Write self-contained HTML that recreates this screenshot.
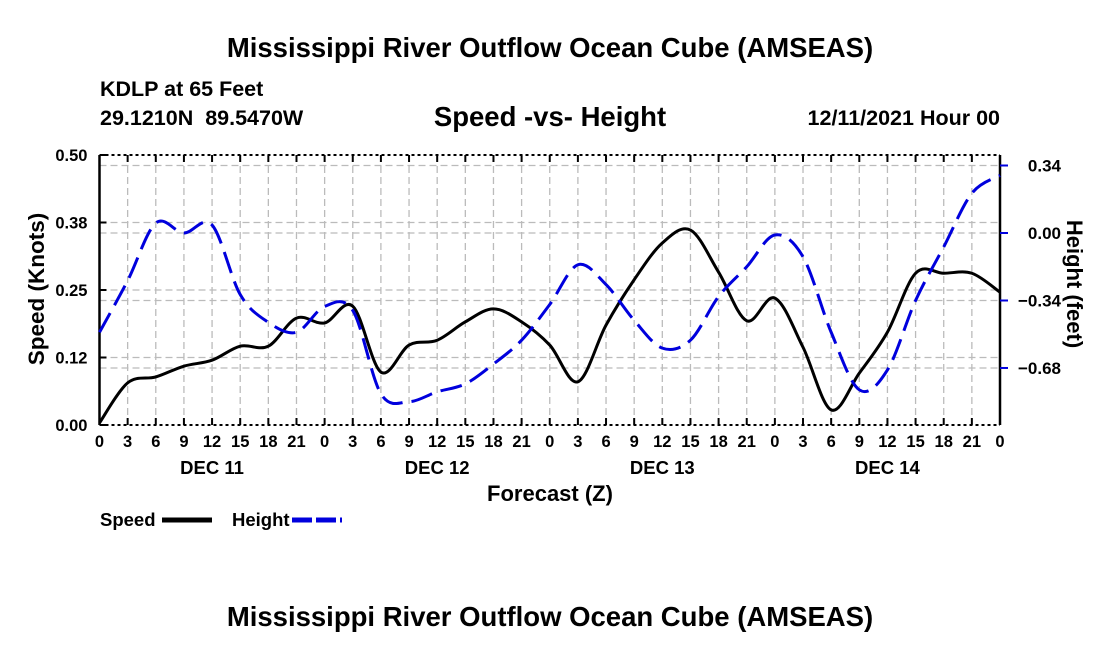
<!DOCTYPE html>
<html><head><meta charset="utf-8"><style>
body{margin:0;background:#fff;}
svg{display:block;font-family:"Liberation Sans",Arial,sans-serif;font-weight:bold;}
</style></head><body>
<svg id="chart" width="1100" height="650" viewBox="0 0 1100 650">
<text x="550" y="57" font-size="27.5" text-anchor="middle">Mississippi River Outflow Ocean Cube (AMSEAS)</text>
<text x="100" y="96" font-size="21.5">KDLP at 65 Feet</text>
<text x="100" y="125" font-size="21.5" xml:space="preserve" style="white-space:pre">29.1210N  89.5470W</text>
<text x="550" y="126" font-size="27.5" text-anchor="middle">Speed -vs- Height</text>
<text x="1000" y="125" font-size="21.5" text-anchor="end">12/11/2021 Hour 00</text>
<g id="grid"></g>
<g id="axes"></g>
<g id="series"></g>
<text transform="translate(44,289) rotate(-90)" font-size="22.5" text-anchor="middle">Speed (Knots)</text>
<text transform="translate(1067,284) rotate(90)" font-size="22" text-anchor="middle">Height (feet)</text>
<text x="550" y="501" font-size="22" text-anchor="middle">Forecast (Z)</text>
<g>
<text x="100" y="526" font-size="18.5">Speed</text>
<line x1="162" y1="520" x2="212" y2="520" stroke="#000" stroke-width="5"/>
<text x="232" y="526" font-size="18.5">Height</text>
<line x1="292" y1="520" x2="342" y2="520" stroke="#0000dd" stroke-width="5" stroke-dasharray="20 4"/>
</g>
<text x="550" y="626" font-size="27.5" text-anchor="middle">Mississippi River Outflow Ocean Cube (AMSEAS)</text>
</svg>
<script>
const hours=[0,3,6,9,12,15,18,21,24,27,30,33,36,39,42,45,48,51,54,57,60,63,66,69,72,75,78,81,84,87,90,93,96];
const speed=[0.004,0.078,0.089,0.109,0.120,0.146,0.146,0.198,0.189,0.220,0.098,0.148,0.157,0.191,0.215,0.191,0.148,0.080,0.185,0.269,0.337,0.361,0.283,0.193,0.235,0.144,0.028,0.096,0.172,0.281,0.281,0.281,0.246];
const height=[-0.50,-0.24,0.05,0.00,0.04,-0.31,-0.45,-0.50,-0.37,-0.39,-0.81,-0.85,-0.80,-0.76,-0.66,-0.54,-0.36,-0.16,-0.26,-0.44,-0.58,-0.54,-0.32,-0.17,-0.01,-0.12,-0.50,-0.79,-0.69,-0.34,-0.07,0.20,0.29];
const leftTicks=["0.00","0.12","0.25","0.38","0.50"];
const leftTickVals=[0,0.125,0.25,0.375,0.5];
const rightTicks=["0.34","0.00","\u22120.34","\u22120.68"];
const rightTickVals=[0.34,0,-0.34,-0.68];
const dayLabels=["DEC 11","DEC 12","DEC 13","DEC 14"];
const X0=99.5,X1=1000,YT=155,YB=425;
const xs=h=>X0+(X1-X0)*h/96;
const yl=v=>YB-(YB-YT)*v/0.5;
const yr=v=>233-v*198.5;
const NS='http://www.w3.org/2000/svg';
function mk(parent,tag,attrs){const e=document.createElementNS(NS,tag);for(const k in attrs)e.setAttribute(k,attrs[k]);document.getElementById(parent).appendChild(e);return e;}
for(let h=3;h<96;h+=3){const g=mk('grid','line',{x1:xs(h),x2:xs(h),y1:YT,y2:YB,stroke:'#bbb','stroke-width':1.3,'stroke-dasharray':'7 4'});

}
leftTickVals.slice(1,4).forEach(v=>{const g=mk('grid','line',{x1:X0,x2:X1,y1:yl(v),y2:yl(v),stroke:'#bbb','stroke-width':1.3,'stroke-dasharray':'7 4'});

});
rightTickVals.forEach(v=>{const g=mk('grid','line',{x1:X0,x2:X1,y1:yr(v),y2:yr(v),stroke:'#bbb','stroke-width':1.3,'stroke-dasharray':'7 4'});

});
let a;
a=mk('axes','line',{x1:X0,x2:X0,y1:YT,y2:YB,stroke:'#000','stroke-width':2.5});
a=mk('axes','line',{x1:X1,x2:X1,y1:YT,y2:YB,stroke:'#000','stroke-width':2.5});
a=mk('axes','line',{x1:X0,x2:X1,y1:YB,y2:YB,stroke:'#000','stroke-width':2,'stroke-dasharray':'3 3'});
a=mk('axes','line',{x1:X0,x2:X1,y1:YT,y2:YT,stroke:'#000','stroke-width':2,'stroke-dasharray':'3 3'});
leftTickVals.forEach((v,i)=>{
 a=mk('axes','line',{x1:X0,x2:X0+7,y1:yl(v),y2:yl(v),stroke:'#000','stroke-width':2});
 const t=mk('axes','text',{x:X0-12,y:yl(v)+6,'font-size':16.5,'text-anchor':'end'});t.textContent=leftTicks[i];
 });
rightTickVals.forEach((v,i)=>{
 a=mk('axes','line',{x1:X1,x2:X1+8,y1:yr(v),y2:yr(v),stroke:'#0000dd','stroke-width':2});
 const t=mk('axes','text',{x:1061,y:yr(v)+6,'font-size':17,'text-anchor':'end'});t.textContent=rightTicks[i];
 });
for(let h=0;h<=96;h+=3){
 a=mk('axes','line',{x1:xs(h),x2:xs(h),y1:YB,y2:YB-7,stroke:'#000','stroke-width':2});
 a=mk('axes','line',{x1:xs(h),x2:xs(h),y1:YT,y2:YT+7,stroke:'#000','stroke-width':2});
 const t=mk('axes','text',{x:xs(h),y:447,'font-size':16.5,'text-anchor':'middle'});t.textContent=String(h%24);
 }
dayLabels.forEach((d,i)=>{const t=mk('axes','text',{x:xs(12+24*i),y:474,'font-size':18.5,'text-anchor':'middle'});t.textContent=d;
 });
function path(pts){let d=`M${pts[0][0]},${pts[0][1]}`;for(let i=0;i<pts.length-1;i++){const p0=pts[Math.max(0,i-1)],p1=pts[i],p2=pts[i+1],p3=pts[Math.min(pts.length-1,i+2)];
 d+=` C${p1[0]+(p2[0]-p0[0])/6},${p1[1]+(p2[1]-p0[1])/6} ${p2[0]-(p3[0]-p1[0])/6},${p2[1]-(p3[1]-p1[1])/6} ${p2[0]},${p2[1]}`;}return d;}
const sp=mk('series','path',{d:path(hours.map((h,i)=>[xs(h),yl(speed[i])])),fill:'none',stroke:'#000','stroke-width':3});


const hp=mk('series','path',{d:path(hours.map((h,i)=>[xs(h),yr(height[i])])),fill:'none',stroke:'#0000dd','stroke-width':3,'stroke-dasharray':'22 9'});


</script>
</body></html>
